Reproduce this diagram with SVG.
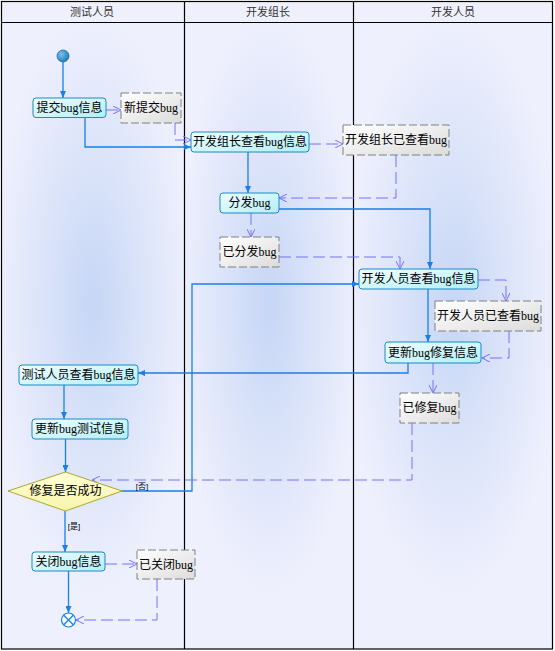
<svg xmlns="http://www.w3.org/2000/svg" width="555" height="651" viewBox="0 0 555 651">
<defs>
<radialGradient id="laneBg" cx="0.5" cy="0.45" r="0.55" gradientUnits="objectBoundingBox" gradientTransform="translate(0.5,0.45) scale(1,0.85) translate(-0.5,-0.45)">
<stop offset="0" stop-color="#c6d6f6"/>
<stop offset="0.55" stop-color="#dde5fa"/>
<stop offset="1" stop-color="#eff0fd"/>
</radialGradient>
<linearGradient id="actFill" x1="0" y1="0" x2="1" y2="1">
<stop offset="0" stop-color="#eefeff"/>
<stop offset="1" stop-color="#b4eef6"/>
</linearGradient>
<linearGradient id="objFill" x1="0" y1="0" x2="1" y2="1">
<stop offset="0" stop-color="#ffffff"/>
<stop offset="1" stop-color="#dcdcdc"/>
</linearGradient>
<linearGradient id="decFill" x1="0" y1="0" x2="0" y2="1">
<stop offset="0" stop-color="#ffffd8"/>
<stop offset="1" stop-color="#f8f4a8"/>
</linearGradient>
<radialGradient id="startFill" cx="0.35" cy="0.35" r="0.7">
<stop offset="0" stop-color="#7cc0e8"/>
<stop offset="1" stop-color="#1f7ab8"/>
</radialGradient>
<marker id="ctl" viewBox="0 0 7 6" refX="7" refY="3" markerWidth="7" markerHeight="6" markerUnits="userSpaceOnUse" orient="auto">
<path d="M0,0 L7,3 L0,6 z" fill="#1a7fe8"/>
</marker>
<marker id="obj" viewBox="0 0 8 8" refX="8" refY="4" markerWidth="8" markerHeight="8" markerUnits="userSpaceOnUse" orient="auto">
<path d="M0,0 L8,4 L0,8" fill="none" stroke="#7272ff" stroke-width="1"/>
</marker>
</defs>
<style>
.lane{fill:url(#laneBg);stroke:none}
.hdr{fill:#f0f0fc;stroke:#000;stroke-width:1}
.div{stroke:#000;stroke-width:1.2;fill:none}
.htxt{font-family:"Liberation Sans","Noto Sans CJK SC",sans-serif;font-size:11px;fill:#333;text-anchor:middle}
.act{fill:url(#actFill);stroke:#1b8ac6;stroke-width:1}
.obj{fill:url(#objFill);stroke:#808080;stroke-width:1;stroke-dasharray:8 3}
.dec{fill:url(#decFill);stroke:#a8a830;stroke-width:1}
.txt{font-family:"Liberation Serif","Noto Sans CJK SC",serif;font-size:12px;fill:#000;text-anchor:middle;dominant-baseline:central}
.grd{font-family:"Liberation Sans","Noto Sans CJK SC",sans-serif;font-size:8px;fill:#000;text-anchor:middle;dominant-baseline:central}
.cf{fill:none;stroke:#1a7fe8;stroke-width:1.3;marker-end:url(#ctl)}
.of{fill:none;stroke:#7272ff;stroke-width:1;stroke-dasharray:12 5;marker-end:url(#obj)}
</style>
<g id="lanes">
<rect class="lane" x="1.5" y="22" width="183" height="627"/>
<rect class="lane" x="184.5" y="22" width="169" height="627"/>
<rect class="lane" x="353.5" y="22" width="199" height="627"/>
<rect class="hdr" x="1.5" y="1.5" width="551" height="21"/>
<rect x="1.5" y="1.5" width="551" height="647.5" fill="none" stroke="#000" stroke-width="1.2"/>
<line class="div" x1="184.5" y1="1.5" x2="184.5" y2="649"/>
<line class="div" x1="353.5" y1="1.5" x2="353.5" y2="649"/>
<text class="htxt" x="92" y="16">测试人员</text>
<text class="htxt" x="268" y="16">开发组长</text>
<text class="htxt" x="453" y="16">开发人员</text>
</g>
<g id="connectors">
<path class="cf" d="M63,62 V98"/>
<path class="cf" d="M85,118 V147 H191"/>
<path class="cf" d="M248,152 V193"/>
<path class="cf" d="M279,209 H430 V269"/>
<path class="cf" d="M428,289 V342"/>
<path class="cf" d="M408,363 V373 H138"/>
<path class="cf" d="M64,385 V419"/>
<path class="cf" d="M65.5,439 V472"/>
<path class="cf" d="M122,491 H192 V284 H359"/>
<path class="cf" d="M65,511 V552"/>
<path class="cf" d="M68.5,571 V613"/>
<path class="of" d="M106,110 H121"/>
<path class="of" d="M175,123 V140 H191"/>
<path class="of" d="M309,144 H343"/>
<path class="of" d="M396,155 V198 H279"/>
<path class="of" d="M251,213 V237"/>
<path class="of" d="M279,257 H400 V269"/>
<path class="of" d="M478,280 H506 V301"/>
<path class="of" d="M509,331 V358 H482"/>
<path class="of" d="M433,363 V393"/>
<path class="of" d="M412,423 V480 H92"/>
<path class="of" d="M105,564 H137"/>
<path class="of" d="M157,579 V620 H76"/>
<text class="grd" x="142" y="486">[否]</text>
<text class="grd" x="74" y="526">[是]</text>
</g>
<g id="start"><circle cx="63" cy="56" r="6" fill="url(#startFill)" stroke="#1f6ea8" stroke-width="0.8"/></g>
<g id="n1"><rect class="act" x="33" y="98" width="73" height="19.5" rx="3"/><text class="txt" x="69.5" y="108">提交bug信息</text></g>
<g id="o1"><rect class="obj" x="121" y="93" width="60" height="30"/><text class="txt" x="151" y="108">新提交bug</text></g>
<g id="n2"><rect class="act" x="191" y="132" width="118" height="20" rx="3"/><text class="txt" x="250" y="142">开发组长查看bug信息</text></g>
<g id="o2"><rect class="obj" x="343" y="125" width="106" height="30"/><text class="txt" x="396" y="140">开发组长已查看bug</text></g>
<g id="n3"><rect class="act" x="220" y="193" width="59" height="20" rx="3"/><text class="txt" x="249.5" y="203">分发bug</text></g>
<g id="o3"><rect class="obj" x="220" y="237" width="59" height="30"/><text class="txt" x="249.5" y="252">已分发bug</text></g>
<g id="n4"><rect class="act" x="359" y="269" width="119" height="20" rx="3"/><text class="txt" x="418.5" y="279">开发人员查看bug信息</text></g>
<g id="o4"><rect class="obj" x="435" y="301" width="106" height="30"/><text class="txt" x="488" y="316">开发人员已查看bug</text></g>
<g id="n5"><rect class="act" x="385" y="342" width="96" height="21" rx="3"/><text class="txt" x="433" y="352.5">更新bug修复信息</text></g>
<g id="o5"><rect class="obj" x="400" y="393" width="59" height="30"/><text class="txt" x="429.5" y="408">已修复bug</text></g>
<g id="n6"><rect class="act" x="19" y="365" width="119" height="20" rx="3"/><text class="txt" x="78.5" y="375">测试人员查看bug信息</text></g>
<g id="n7"><rect class="act" x="32" y="419" width="96" height="20" rx="3"/><text class="txt" x="80" y="429">更新bug测试信息</text></g>
<g id="d1"><path class="dec" d="M65.5,472 L122,491 L65.5,511 L8,491 z"/><text class="txt" x="65.5" y="491">修复是否成功</text></g>
<g id="n8"><rect class="act" x="32" y="552" width="73" height="19" rx="3"/><text class="txt" x="68.5" y="561.5">关闭bug信息</text></g>
<g id="o6"><rect class="obj" x="137" y="550" width="58" height="29"/><text class="txt" x="166" y="564.5">已关闭bug</text></g>
<g id="end"><circle cx="68.5" cy="620" r="7" fill="#f4fcff" stroke="#1a7fe8" stroke-width="1.2"/><path d="M63.5,615 L73.5,625 M73.5,615 L63.5,625" stroke="#1a7fe8" stroke-width="1.2"/></g>
</svg>
